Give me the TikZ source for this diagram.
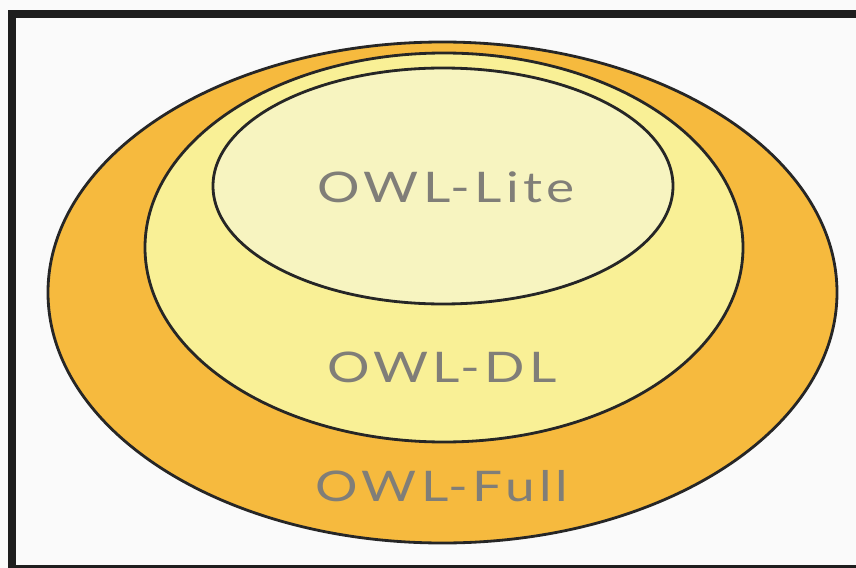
\documentclass[tikz,border=0pt]{standalone}
\usepackage{fontspec}
\usepackage{graphicx}
\setmainfont{Lato}
\newfontfamily\labelfont[LetterSpace=8]{Lato}
\newcommand{\widelabel}[1]{\scalebox{1.26}[1]{\labelfont #1}}
\begin{document}
\begin{tikzpicture}[x=0.02cm,y=-0.02cm,
  ring/.style={draw=black!85,line width=1.6pt},
  owllabel/.style={text=labelgray,font=\fontsize{24}{27}\selectfont,inner sep=0pt,anchor=center}]
\definecolor{fullorange}{RGB}{246,186,62}
\definecolor{dlyellow}{RGB}{249,240,150}
\definecolor{liteyellow}{RGB}{247,244,192}
\definecolor{labelgray}{RGB}{128,126,120}
\definecolor{framedark}{RGB}{30,30,30}
\useasboundingbox (0,0) rectangle (856,568);
\fill[white!98!black] (0,0) rectangle (856,568);
% frame, open on the right
\draw[framedark,line width=0.18cm] (860,14) coordinate (ftr) -- (12,14) -- (12,569) -- (860,569) coordinate (fbr);
% nested language levels
\draw[ring,fill=fullorange] (442.5,292.5) ellipse [x radius=394.5,y radius=250.5];
\draw[ring,fill=dlyellow] (444,247.5) ellipse [x radius=299,y radius=194.5];
\draw[ring,fill=liteyellow] (443,186) ellipse [x radius=230,y radius=118];
\node[owllabel] (lite) at (446,187) {\widelabel{OWL-Lite}};
\node[owllabel] (dl) at (442,367) {\widelabel{OWL-DL}};
\node[owllabel] (full) at (442,486) {\widelabel{OWL-Full}};
\end{tikzpicture}
\end{document}
